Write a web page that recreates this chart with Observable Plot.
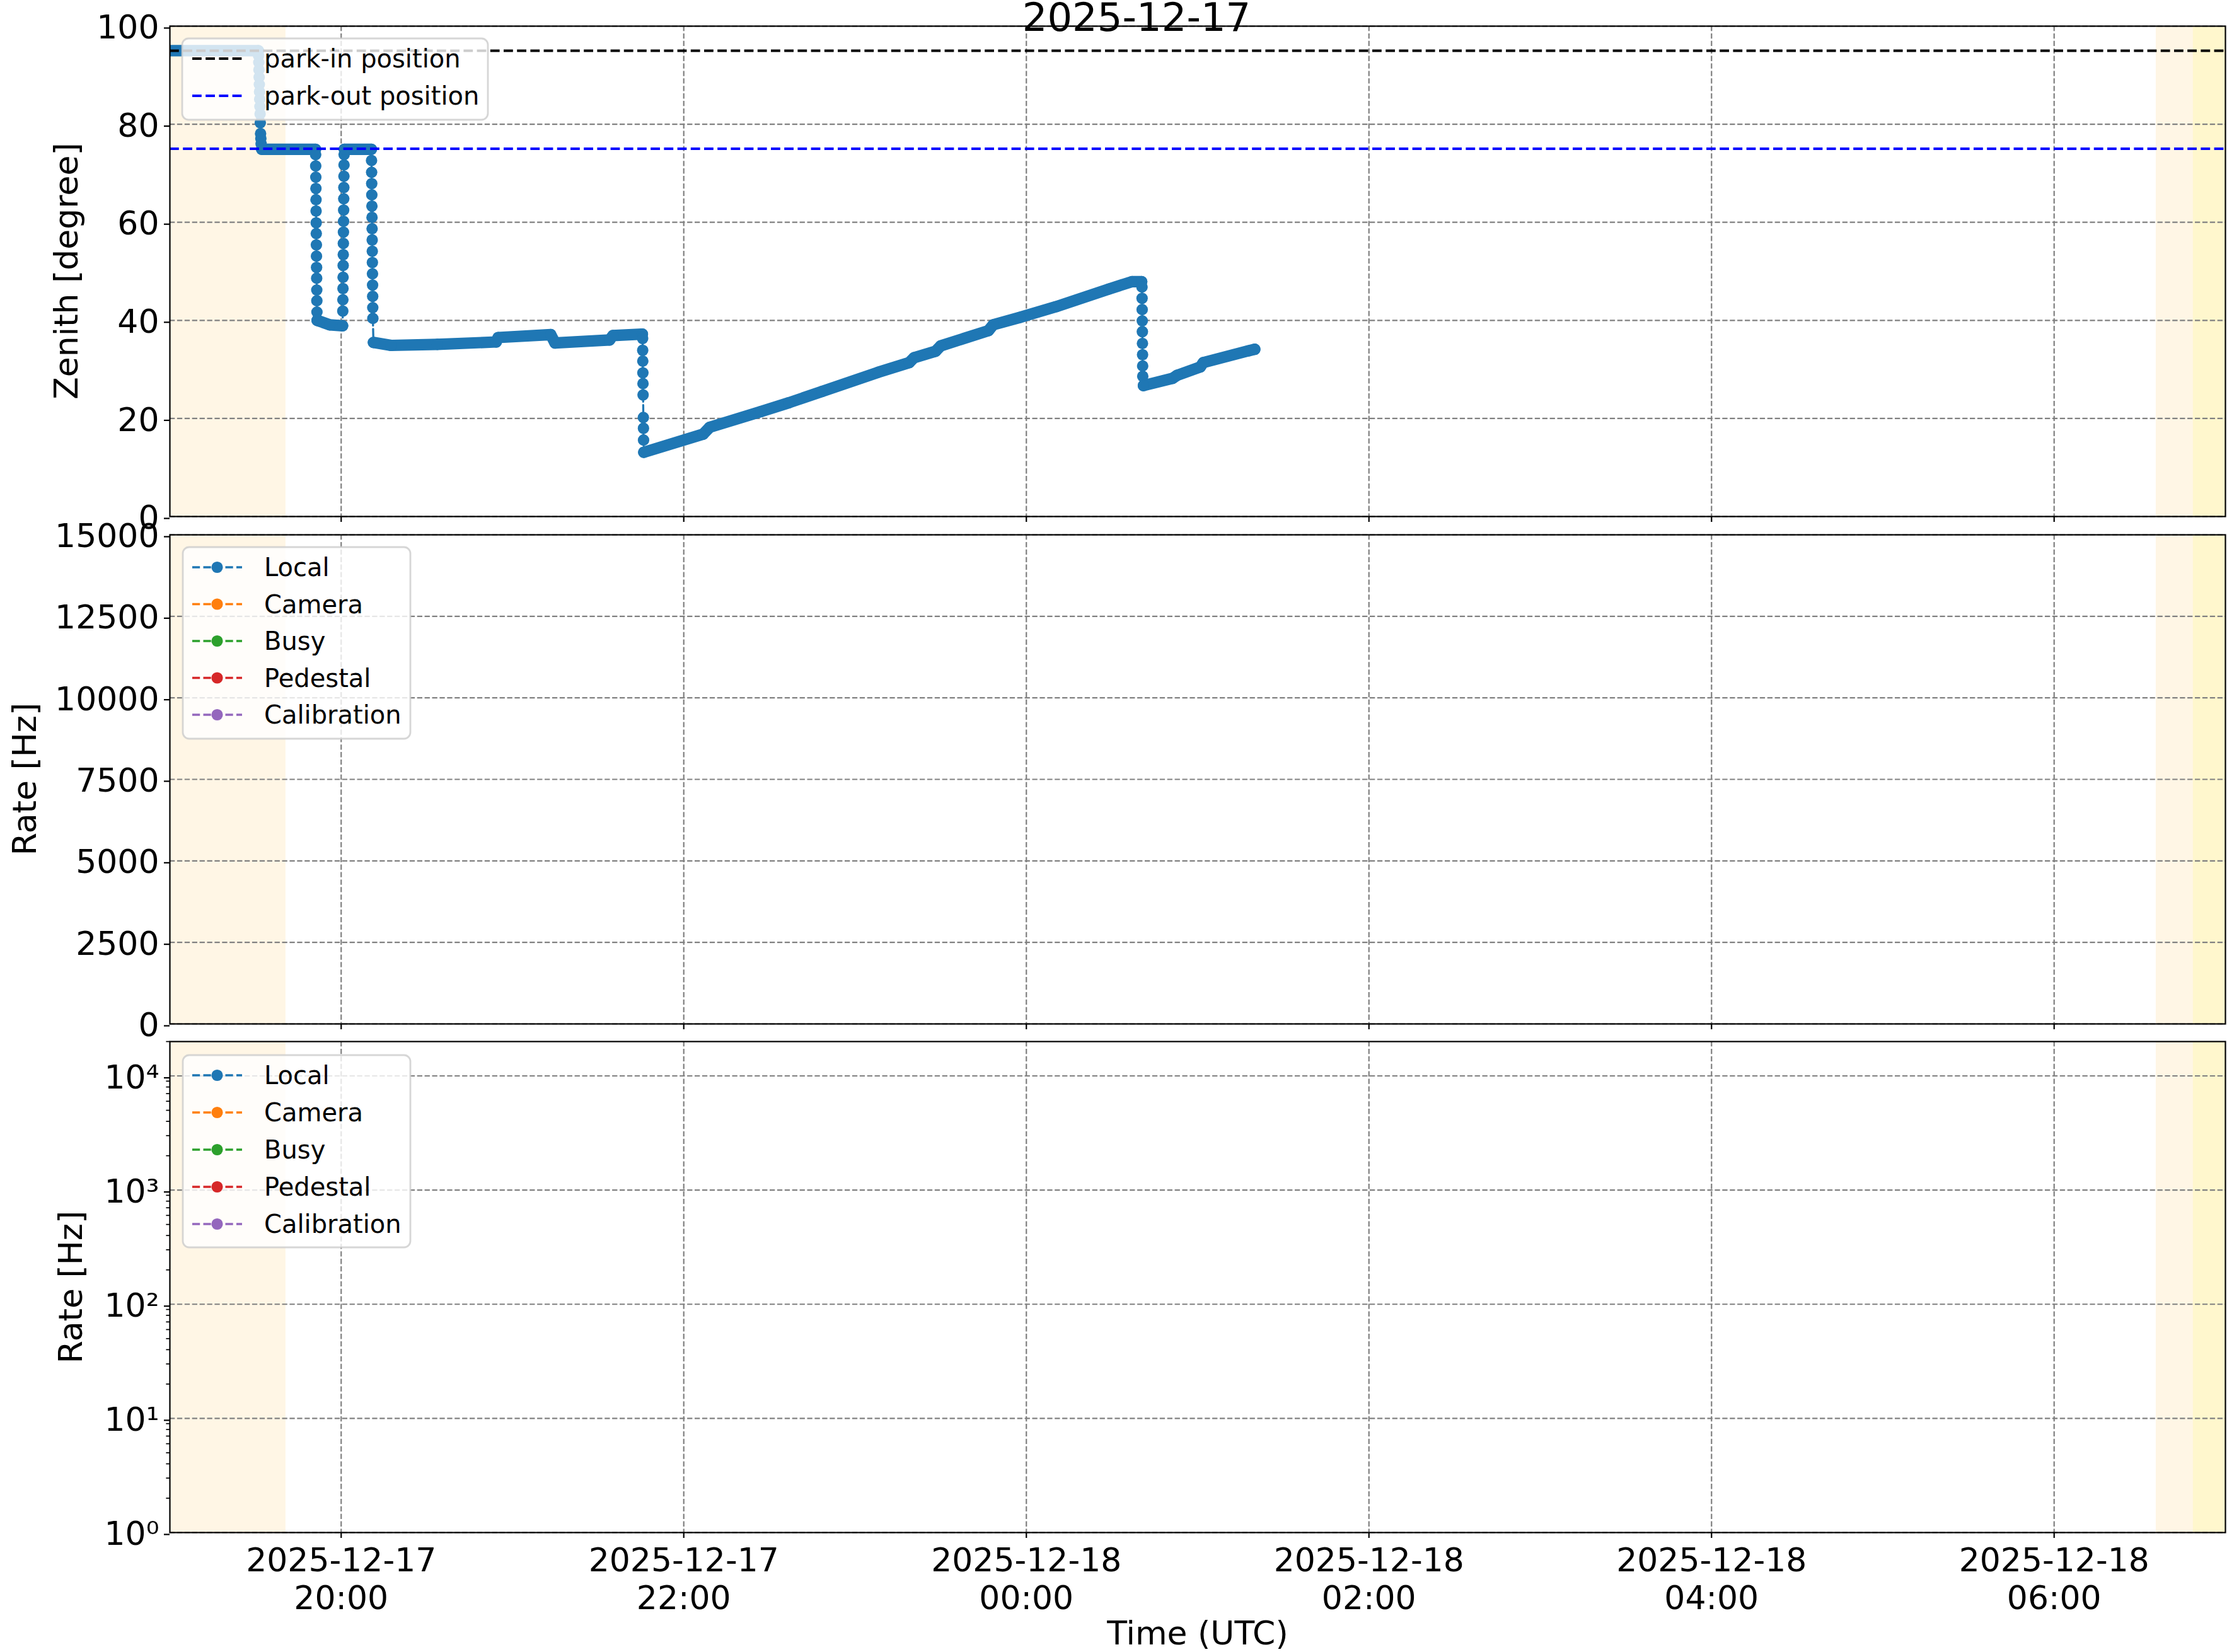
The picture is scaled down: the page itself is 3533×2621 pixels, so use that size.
<!DOCTYPE html>
<html><head><meta charset="utf-8">
<script src="https://cdn.jsdelivr.net/npm/d3@7"></script>
<script src="https://cdn.jsdelivr.net/npm/@observablehq/plot@0.6"></script>
<style>
html,body{margin:0;padding:0;background:#fff;}
#fig{position:relative;width:3533px;height:2621px;background:#fff;font-family:"DejaVu Sans";overflow:hidden;}
#fig svg{position:absolute;left:0;overflow:visible;}
</style></head><body><div id="fig"></div>
<script>
// ---------------- data ----------------
const titleText = "2025-12-17";
const zenithTime = [
 "2025-12-17T18:58:00Z","2025-12-17T19:31:00Z",
 "2025-12-17T19:31:04Z","2025-12-17T19:31:08Z","2025-12-17T19:31:12Z","2025-12-17T19:31:16Z","2025-12-17T19:31:20Z","2025-12-17T19:31:24Z","2025-12-17T19:31:28Z","2025-12-17T19:31:32Z","2025-12-17T19:31:36Z","2025-12-17T19:31:40Z","2025-12-17T19:31:46Z","2025-12-17T19:31:52Z","2025-12-17T19:31:58Z",
 "2025-12-17T19:32:10Z","2025-12-17T19:51:00Z",
 "2025-12-17T19:51:03Z","2025-12-17T19:51:05Z","2025-12-17T19:51:07Z","2025-12-17T19:51:09Z","2025-12-17T19:51:11Z","2025-12-17T19:51:13Z","2025-12-17T19:51:15Z","2025-12-17T19:51:17Z","2025-12-17T19:51:19Z","2025-12-17T19:51:21Z","2025-12-17T19:51:23Z","2025-12-17T19:51:25Z","2025-12-17T19:51:27Z","2025-12-17T19:51:29Z","2025-12-17T19:51:31Z",
 "2025-12-17T19:51:35Z","2025-12-17T19:56:00Z","2025-12-17T20:00:30Z",
 "2025-12-17T20:00:34Z","2025-12-17T20:00:36Z","2025-12-17T20:00:38Z","2025-12-17T20:00:40Z","2025-12-17T20:00:42Z","2025-12-17T20:00:44Z","2025-12-17T20:00:46Z","2025-12-17T20:00:48Z","2025-12-17T20:00:50Z","2025-12-17T20:00:52Z","2025-12-17T20:00:54Z","2025-12-17T20:00:56Z","2025-12-17T20:00:58Z","2025-12-17T20:01:00Z","2025-12-17T20:01:02Z",
 "2025-12-17T20:01:06Z","2025-12-17T20:10:34Z",
 "2025-12-17T20:10:38Z","2025-12-17T20:10:40Z","2025-12-17T20:10:42Z","2025-12-17T20:10:44Z","2025-12-17T20:10:46Z","2025-12-17T20:10:48Z","2025-12-17T20:10:50Z","2025-12-17T20:10:52Z","2025-12-17T20:10:54Z","2025-12-17T20:10:56Z","2025-12-17T20:10:58Z","2025-12-17T20:11:00Z","2025-12-17T20:11:02Z","2025-12-17T20:11:04Z","2025-12-17T20:11:06Z",
 "2025-12-17T20:11:18Z","2025-12-17T20:17:30Z","2025-12-17T20:33:42Z","2025-12-17T20:54:18Z","2025-12-17T20:55:00Z","2025-12-17T21:13:24Z","2025-12-17T21:14:54Z","2025-12-17T21:34:00Z","2025-12-17T21:35:12Z","2025-12-17T21:45:30Z",
 "2025-12-17T21:45:35Z","2025-12-17T21:45:37Z","2025-12-17T21:45:39Z","2025-12-17T21:45:41Z","2025-12-17T21:45:43Z","2025-12-17T21:45:45Z","2025-12-17T21:45:51Z","2025-12-17T21:45:53Z","2025-12-17T21:45:55Z",
 "2025-12-17T21:46:00Z","2025-12-17T22:06:48Z","2025-12-17T22:09:06Z","2025-12-17T22:27:00Z","2025-12-17T22:36:48Z","2025-12-17T22:48:24Z","2025-12-17T23:08:00Z","2025-12-17T23:19:00Z","2025-12-17T23:20:42Z","2025-12-17T23:28:12Z","2025-12-17T23:30:00Z","2025-12-17T23:46:42Z","2025-12-17T23:48:24Z","2025-12-17T23:57:42Z","2025-12-18T00:10:24Z","2025-12-18T00:28:54Z","2025-12-18T00:37:00Z","2025-12-18T00:40:24Z",
 "2025-12-18T00:40:30Z","2025-12-18T00:40:32Z","2025-12-18T00:40:34Z","2025-12-18T00:40:36Z","2025-12-18T00:40:38Z","2025-12-18T00:40:40Z","2025-12-18T00:40:42Z","2025-12-18T00:40:44Z","2025-12-18T00:40:46Z",
 "2025-12-18T00:41:00Z","2025-12-18T00:51:18Z","2025-12-18T00:52:48Z","2025-12-18T01:00:54Z","2025-12-18T01:02:00Z","2025-12-18T01:17:48Z","2025-12-18T01:20:00Z"
];
const zenithDeg = [
 95.0,95.0,
 94.0,92.6,91.1,89.6,88.1,86.6,85.1,83.6,82.1,80.3,78.1,77.1,76.0,
 74.9,74.9,
 73.8,71.5,69.2,66.9,64.6,62.3,59.9,57.7,55.4,53.1,50.8,48.6,46.2,44.0,41.7,
 40.0,39.1,38.9,
 41.9,44.2,46.5,48.8,51.2,53.4,55.7,58.0,60.2,62.5,64.8,67.1,69.4,71.7,73.8,
 74.9,74.9,
 72.6,70.2,67.9,65.6,63.3,61.0,58.7,56.4,54.1,51.8,49.5,47.2,44.9,42.6,40.4,
 35.5,34.9,35.1,35.6,36.5,37.1,35.4,36.0,36.9,37.2,
 36.3,33.9,31.7,29.3,27.1,24.8,20.2,18.0,15.6,
 13.1,16.8,18.2,21.4,23.2,25.5,29.4,31.4,32.4,33.7,34.8,37.9,39.1,40.6,42.8,46.4,47.9,47.9,
 46.8,44.5,42.2,39.9,37.7,35.3,33.0,30.7,28.6,
 26.7,28.2,28.8,30.5,31.4,33.8,34.1
];
// T = tracking (dense samples), S = slewing (sparse samples)
const zenithMode = [
 "T","T",
 "S","S","S","S","S","S","S","S","S","S","S","S","S",
 "T","T",
 "S","S","S","S","S","S","S","S","S","S","S","S","S","S","S",
 "T","T","T",
 "S","S","S","S","S","S","S","S","S","S","S","S","S","S","S",
 "T","T",
 "S","S","S","S","S","S","S","S","S","S","S","S","S","S","S",
 "T","T","T","T","T","T","T","T","T","T",
 "S","S","S","S","S","S","S","S","S",
 "T","T","T","T","T","T","T","T","T","T","T","T","T","T","T","T","T","T",
 "S","S","S","S","S","S","S","S","S",
 "T","T","T","T","T","T","T"
];
const shadeStart = ["2025-12-17T18:00:00Z","2025-12-18T06:35:42Z","2025-12-18T06:48:42Z"];
const shadeEnd   = ["2025-12-17T19:40:36Z","2025-12-18T08:00:00Z","2025-12-18T08:00:00Z"];
const shadeColor = ["orange","orange","yellow"];
const parkLabels = ["park-in position","park-out position"];
const parkValues = [95, 75];
const parkColors = ["black","blue"];
const rateSeries = ["Local","Camera","Busy","Pedestal","Calibration"];
const rateColors = ["#1f77b4","#ff7f0e","#2ca02c","#d62728","#9467bd"];
const xDomain = ["2025-12-17T19:00:00Z","2025-12-18T07:00:00Z"];
const xTickTimes = ["2025-12-17T20:00:00Z","2025-12-17T22:00:00Z","2025-12-18T00:00:00Z","2025-12-18T02:00:00Z","2025-12-18T04:00:00Z","2025-12-18T06:00:00Z"];
const zenithTicks = [0,20,40,60,80,100];
const rateTicks = [0,2500,5000,7500,10000,12500,15000];
const logDomain = [1, 20000];
const logTicks = [1,10,100,1000,10000];
const logTickLabels = ["10⁰","10¹","10²","10³","10⁴"];
const logMinorTicks = [2,3,4,5,6,7,8,9,20,30,40,50,60,70,80,90,200,300,400,500,600,700,800,900,2000,3000,4000,5000,6000,7000,8000,9000,20000];
const xLabel = "Time (UTC)";
const zenithLabel = "Zenith [degree]";
const rateLabel = "Rate [Hz]";

// ---------------- build ----------------
const P = d => new Date(d);
let run = 0;
const rows = zenithTime.map((t, i) => {
  if (i > 0 && zenithMode[i] !== zenithMode[i-1]) run++;
  return {t: P(t), z: zenithDeg[i], mode: zenithMode[i], run};
});
const shades = shadeStart.map((s, i) => ({start: P(s), end: P(shadeEnd[i]), color: shadeColor[i]}));
const xTicks = xTickTimes.map(P);
const xd = xDomain.map(P);
const BLUE = "#1f77b4";
const FONT = "DejaVu Sans";
const W = 3533, ML = 269, MR = 3;
const R = 9.1;
const gridStyle = {stroke: "#808080", strokeOpacity: 1, strokeWidth: 2.2, strokeDasharray: "8.3,3.6"};
const shadeMarks = () => [
  Plot.rect(shades, {x1: "start", x2: "end", fill: "color", fillOpacity: 0.1, clip: true})
];
const baseStyle = {fontFamily: FONT, fontSize: "52px", background: "transparent", overflow: "visible", color: "black"};

const fig = document.getElementById("fig");

// Panel 1: zenith
const p1 = Plot.plot({
  width: W, height: 830, marginLeft: ML, marginRight: MR, marginTop: 41, marginBottom: 11,
  style: baseStyle,
  x: {type: "utc", domain: xd, label: null},
  y: {domain: [0, 100], label: null},
  color: {type: "identity"},
  marks: [
    ...shadeMarks(),
    Plot.gridX(xTicks, gridStyle),
    Plot.gridY(zenithTicks, gridStyle),
    Plot.line(rows, {x: "t", y: "z", stroke: BLUE, strokeWidth: 3.3, strokeDasharray: "12.2,5.3", clip: true}),
    Plot.line(rows.filter(d => d.mode === "T"), {x: "t", y: "z", z: "run", stroke: BLUE, strokeWidth: 2 * R, strokeLinecap: "round", strokeLinejoin: "round", clip: true}),
    Plot.dot(rows, {x: "t", y: "z", r: R, fill: BLUE, stroke: null, clip: true}),
    Plot.ruleY(parkValues.map((v, i) => ({v, c: parkColors[i]})), {y: "v", stroke: "c", strokeWidth: 4, strokeDasharray: "14.8,6.4"}),
    Plot.axisY({ticks: zenithTicks, tickSize: 9, tickPadding: 8, tickFormat: d => String(d), fontSize: 52, strokeWidth: 2.2, dy: 3, label: null}),
    Plot.axisX({ticks: xTicks, tickSize: 9, tickFormat: () => "", strokeWidth: 2.2, label: null}),
    Plot.frame({stroke: "black", strokeWidth: 2.2})
  ]
});
p1.style.top = "0px";
fig.appendChild(p1);

// Panel 2: linear rate
const p2 = Plot.plot({
  width: W, height: 810, marginLeft: ML, marginRight: MR, marginTop: 18, marginBottom: 16,
  style: baseStyle,
  x: {type: "utc", domain: xd, label: null},
  y: {domain: [0, 15000], label: null},
  color: {type: "identity"},
  marks: [
    ...shadeMarks(),
    Plot.gridX(xTicks, gridStyle),
    Plot.gridY(rateTicks, gridStyle),
    Plot.axisY({ticks: rateTicks, tickSize: 9, tickPadding: 8, tickFormat: d => String(d), fontSize: 52, strokeWidth: 2.2, dy: 3, label: null}),
    Plot.axisX({ticks: xTicks, tickSize: 9, tickFormat: () => "", strokeWidth: 2.2, label: null}),
    Plot.frame({stroke: "black", strokeWidth: 2.2})
  ]
});
p2.style.top = "830px";
fig.appendChild(p2);

// Panel 3: log rate
const p3 = Plot.plot({
  width: W, height: 981, marginLeft: ML, marginRight: MR, marginTop: 12, marginBottom: 190,
  style: baseStyle,
  x: {type: "utc", domain: xd, label: null},
  y: {type: "log", domain: logDomain, label: null},
  color: {type: "identity"},
  marks: [
    ...shadeMarks(),
    Plot.gridX(xTicks, gridStyle),
    Plot.gridY(logTicks, gridStyle),
    Plot.axisY({ticks: logMinorTicks, tickSize: 5.6, tickFormat: () => "", strokeWidth: 1.7, label: null}),
    Plot.axisY({ticks: logTicks, tickSize: 9, tickPadding: 8, tickFormat: d => logTickLabels[logTicks.indexOf(d)], fontSize: 52, strokeWidth: 2.2, dy: 3, label: null}),
    Plot.axisX({ticks: xTicks, tickSize: 9, tickPadding: 10, lineHeight: 1.15, tickFormat: d3.utcFormat("%Y-%m-%d\n%H:%M"), fontSize: 52, strokeWidth: 2.2, label: null}),
    Plot.frame({stroke: "black", strokeWidth: 2.2})
  ]
});
p3.style.top = "1640px";
fig.appendChild(p3);

// ---------------- annotations: labels, title, legends ----------------
function ylabel(svg, x, y, text) {
  d3.select(svg).append("text")
    .attr("transform", `translate(${x},${y}) rotate(-90)`)
    .attr("text-anchor", "middle").attr("font-family", FONT).attr("font-size", 52)
    .attr("fill", "black").text(text);
}
ylabel(p1, 123, 430, zenithLabel);
ylabel(p2, 57, 406, rateLabel);
ylabel(p3, 130, 402, rateLabel);

d3.select(p3).append("text").attr("x", 1900).attr("y", 969).attr("text-anchor", "middle")
  .attr("font-family", FONT).attr("font-size", 52).attr("fill", "black").text(xLabel);

d3.select(p1).append("text").attr("x", 1803).attr("y", 49).attr("text-anchor", "middle")
  .attr("font-family", FONT).attr("font-size", 62.4).attr("fill", "black").text(titleText);

function legend(svg, box, items) {
  const g = d3.select(svg).append("g");
  g.append("rect").attr("x", box.x).attr("y", box.y).attr("width", box.w).attr("height", box.h)
    .attr("rx", 10).attr("fill", "white").attr("fill-opacity", 0.8)
    .attr("stroke", "#cccccc").attr("stroke-opacity", 0.8).attr("stroke-width", 2.8);
  items.forEach(it => {
    g.append("line").attr("x1", 305).attr("x2", 384).attr("y1", it.y).attr("y2", it.y)
      .attr("stroke", it.color).attr("stroke-width", it.w).attr("stroke-dasharray", it.dash);
    if (it.marker) g.append("circle").attr("cx", 344.5).attr("cy", it.y).attr("r", R).attr("fill", it.color);
    g.append("text").attr("x", 419).attr("y", it.y + 14).attr("text-anchor", "start").attr("font-family", FONT)
      .attr("font-size", 40).attr("fill", "black").text(it.label);
  });
}
legend(p1, {x: 289, y: 61, w: 485, h: 129},
  parkLabels.map((l, i) => ({label: l, color: parkColors[i], y: 93 + i * 59, w: 4, dash: "14.8,6.4", marker: false})));
legend(p2, {x: 290, y: 38, w: 361, h: 304},
  rateSeries.map((l, i) => ({label: l, color: rateColors[i], y: 70 + i * 58.5, w: 3.3, dash: "12.2,5.3", marker: true})));
legend(p3, {x: 290, y: 34, w: 361, h: 305},
  rateSeries.map((l, i) => ({label: l, color: rateColors[i], y: 66 + i * 59, w: 3.3, dash: "12.2,5.3", marker: true})));
</script>
</body></html>
